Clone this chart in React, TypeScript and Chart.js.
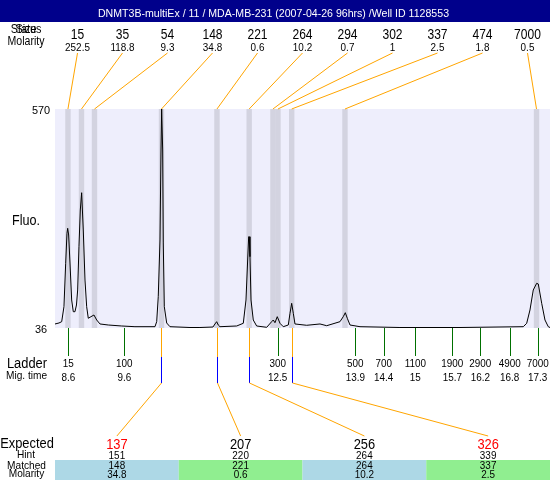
import React, { useEffect, useRef } from 'react';
import { Chart, registerables } from 'chart.js';

Chart.register(...registerables);

const TITLE = 'DNMT3B-multiEx / 11 / MDA-MB-231 (2007-04-26 96hrs) /Well ID 1128553';

// Electropherogram trace: migration time (s) and fluorescence
const traceTimes = [
  8.354, 8.428, 8.478, 8.520, 8.552, 8.576, 8.589, 8.607, 8.632, 8.663, 8.693, 8.724, 8.752, 8.774,
  8.798, 8.823, 8.848, 8.878, 8.910, 8.941, 8.971, 9.021, 9.076, 9.127, 9.188, 9.342, 9.590, 9.836,
  10.207, 10.239, 10.268, 10.300, 10.318, 10.331, 10.350, 10.361, 10.380, 10.424, 10.485, 10.856,
  11.041, 11.282, 11.319, 11.351, 11.380, 11.412, 11.722, 11.844, 11.894, 11.925, 11.944, 11.955,
  11.968, 11.987, 12.029, 12.092, 12.278, 12.370, 12.400, 12.431, 12.474, 12.524, 12.585, 12.678,
  12.710, 12.741, 12.771, 12.802, 13.019, 13.266, 13.390, 13.636, 13.697, 13.735, 13.772, 13.822,
  14.007, 14.748, 15.861, 17.034, 17.097, 17.158, 17.219, 17.282, 17.312, 17.375, 17.436, 17.497, 17.529,
];
const traceValues = [
  45.8, 48.2, 51.4, 88, 193.8, 266.9, 279.1, 262.8, 194.5, 104.3, 75.7, 75.7, 92.1, 128.7,
  234.2, 323.7, 365.9, 275, 153, 88, 59.7, 63.6, 67.7, 55.5, 45.8, 43.3, 40.9, 39.2,
  39.2, 51.4, 112.3, 250.6, 462.7, 570, 470, 243.3, 88, 48.2, 39.2, 37.2,
  37.2, 38.4, 45.8, 51.4, 43.3, 39.2, 40.9, 47.5, 104.3, 201.8, 258.6, 258.6,
  209.9, 104.3, 55.5, 40.9, 37.7, 51.4, 55.5, 48.9, 63.6, 47.5, 39.2, 43.3,
  71.8, 96.2, 71.8, 45.8, 42.6, 45.8, 41.6, 51.4, 63.6, 73.3, 59.7, 43.3,
  39.2, 37.2, 37.2, 39.2, 47.5, 79.9, 128.7, 145, 143.3, 96.2, 55.5, 39.2, 37.2,
];

// Detected peaks
const peakSizes = ['15', '35', '54', '148', '221', '264', '294', '302', '337', '474', '7000'];
const peakMolarity = ['252.5', '118.8', '9.3', '34.8', '0.6', '10.2', '0.7', '1', '2.5', '1.8', '0.5'];
const peakTimes = [8.594, 8.845, 9.086, 10.328, 11.356, 11.953, 12.394, 12.487, 12.741, 13.729, 17.279];

// Ladder
const ladderSizes = ['15', '100', '300', '500', '700', '1100', '1900', '2900', '4900', '7000'];
const ladderTimeLabels = ['8.6', '9.6', '12.5', '13.9', '14.4', '15', '15.7', '16.2', '16.8', '17.3'];
const ladderTimes = [8.6, 9.638, 12.481, 13.92, 14.446, 15.032, 15.718, 16.237, 16.782, 17.301];

// Expected products table
const expectedSizes = ['137', '207', '256', '326'];
const expectedRed = [true, false, false, true];
const hintSizes = ['151', '220', '264', '339'];
const matchedSizes = ['148', '221', '264', '337'];
const matchedMolarity = ['34.8', '0.6', '10.2', '2.5'];
const matchedTimes = [10.328, 11.356, 11.953, 12.741];
const cellColors = ['#add8e6', '#90ee90', '#add8e6', '#90ee90'];

const Y_MIN = 36;
const Y_MAX = 570;
const X_MIN = 8.354;
const X_MAX = 17.529;

const FONT = '"Liberation Sans", Arial, Helvetica, sans-serif';

function text(ctx: CanvasRenderingContext2D, s: string, x: number, y: number, size: number, color = '#000', sx = 0.9) {
  ctx.save();
  ctx.font = `${size}px ${FONT}`;
  ctx.fillStyle = color;
  ctx.textAlign = 'center';
  ctx.textBaseline = 'alphabetic';
  ctx.translate(x, y);
  ctx.scale(sx, 1);
  ctx.fillText(s, 0, 0);
  ctx.restore();
}

function line(ctx: CanvasRenderingContext2D, x1: number, y1: number, x2: number, y2: number, color: string) {
  ctx.save();
  ctx.strokeStyle = color;
  ctx.lineWidth = 1;
  ctx.beginPath();
  ctx.moveTo(x1, y1);
  ctx.lineTo(x2, y2);
  ctx.stroke();
  ctx.restore();
}

function vbar(ctx: CanvasRenderingContext2D, x: number, y1: number, y2: number, color: string, w = 1) {
  ctx.save();
  ctx.fillStyle = color;
  ctx.fillRect(Math.round(x) - Math.floor(w / 2), y1, w, y2 - y1);
  ctx.restore();
}

const decorPlugin = {
  id: 'decor',
  beforeDraw(chart: any) {
    const ctx: CanvasRenderingContext2D = chart.ctx;
    const { left, right, top, bottom } = chart.chartArea;
    const xs = chart.scales.x;
    ctx.save();
    ctx.fillStyle = '#ffffff';
    ctx.fillRect(0, 0, chart.width, chart.height);
    // plot background
    ctx.fillStyle = '#eeeefc';
    ctx.fillRect(left, top, right - left, bottom - top);
    // peak bands
    ctx.fillStyle = '#d3d3e0';
    peakTimes.forEach((t) => {
      const x1 = xs.getPixelForValue(t - 0.05);
      const x2 = xs.getPixelForValue(t + 0.05);
      ctx.fillRect(x1, top, x2 - x1, bottom - top);
    });
    ctx.restore();
  },
  afterDraw(chart: any) {
    const ctx: CanvasRenderingContext2D = chart.ctx;
    const { left, right, top, bottom } = chart.chartArea;
    const xs = chart.scales.x;
    const ys = chart.scales.y;

    // expected connectors
    const tW = (right - left) / expectedSizes.length;
    matchedTimes.forEach((t, i) => {
      const x = xs.getPixelForValue(t);
      const cx = left + tW * i + tW / 2;
      vbar(ctx, x, bottom, 357, '#ffa500');
      vbar(ctx, x, 357, 383, '#0000ff');
      line(ctx, Math.round(x) + 0.5, 383, cx, 436, '#ffa500');
    });

    // left labels (top)
    text(ctx, 'Size', 26, 33, 12, '#000', 0.9);
    text(ctx, 'Status', 26, 33, 12, '#000', 0.9);
    text(ctx, 'Molarity', 26, 45, 12, '#000', 0.88);

    // title bar
    ctx.save();
    ctx.fillStyle = '#00008b';
    ctx.fillRect(0, 0, chart.width, 22);
    ctx.restore();
    text(ctx, TITLE, 273.5, 17, 11.5, '#ffffff', 0.92);

    // peak labels and connectors
    const colW = (right - left) / peakSizes.length;
    peakSizes.forEach((s, i) => {
      const cx = left + colW * i + colW / 2;
      text(ctx, s, cx, 39, 14, '#000', 0.86);
      text(ctx, peakMolarity[i], cx, 50.5, 11, '#000', 0.9);
      line(ctx, cx, 53, xs.getPixelForValue(peakTimes[i]), top, '#ffa500');
    });

    // y axis labels
    text(ctx, String(Y_MAX), 41, ys.getPixelForValue(Y_MAX) + 5, 11.5, '#000', 0.95);
    text(ctx, String(Y_MIN), 41, ys.getPixelForValue(Y_MIN) + 5, 11.5, '#000', 0.95);
    text(ctx, 'Fluo.', 26, 225, 14, '#000', 0.9);

    // ladder
    ladderTimes.forEach((t, i) => {
      const x = xs.getPixelForValue(t);
      vbar(ctx, x, bottom, bottom + 28, '#007000');
      text(ctx, ladderSizes[i], x, 367, 11, '#000', 0.9);
      text(ctx, ladderTimeLabels[i], x, 380.7, 11, '#000', 0.9);
    });
    text(ctx, 'Ladder', 27, 368.3, 14, '#000', 0.92);
    text(ctx, 'Mig. time', 26.5, 379, 11, '#000', 0.92);

    // table
    expectedSizes.forEach((s, i) => {
      const x0 = left + tW * i;
      const cx = x0 + tW / 2;
      ctx.save();
      ctx.fillStyle = cellColors[i];
      ctx.fillRect(x0, 460, tW, 20);
      ctx.restore();
      text(ctx, s, cx, 449, 14, expectedRed[i] ? '#ff0000' : '#000', 0.92);
      text(ctx, hintSizes[i], cx, 458.7, 11, '#000', 0.9);
      text(ctx, matchedSizes[i], cx, 468.7, 11, '#000', 0.9);
      text(ctx, matchedMolarity[i], cx, 477.7, 11, '#000', 0.9);
    });
    text(ctx, 'Expected', 27, 448.3, 14, '#000', 0.92);
    text(ctx, 'Hint', 26, 458.3, 11, '#000', 0.92);
    text(ctx, 'Matched', 26.5, 469, 11, '#000', 0.92);
    text(ctx, 'Molarity', 26.5, 477, 11, '#000', 0.92);
  },
};

export default function App() {
  const ref = useRef<HTMLCanvasElement>(null);
  useEffect(() => {
    if (!ref.current) return;
    const chart = new Chart(ref.current, {
      type: 'line',
      data: {
        datasets: [
          {
            data: traceTimes.map((t, i) => ({ x: t, y: traceValues[i] })),
            borderColor: '#000000',
            borderWidth: 1,
            pointRadius: 0,
            tension: 0,
            fill: false,
          },
        ],
      },
      options: {
        responsive: false,
        animation: false,
        devicePixelRatio: 1,
        layout: { padding: { left: 55, right: 0, top: 109, bottom: 152 } },
        plugins: { legend: { display: false }, tooltip: { enabled: false } },
        scales: {
          x: { type: 'linear', min: X_MIN, max: X_MAX, display: false },
          y: { type: 'linear', min: Y_MIN, max: Y_MAX, display: false },
        },
      },
      plugins: [decorPlugin],
    });
    return () => chart.destroy();
  }, []);
  return (
    <div style={{ position: 'absolute', left: 0, top: 0, width: 550, height: 480 }}>
      <canvas ref={ref} width={550} height={480} style={{ display: 'block' }} />
    </div>
  );
}
